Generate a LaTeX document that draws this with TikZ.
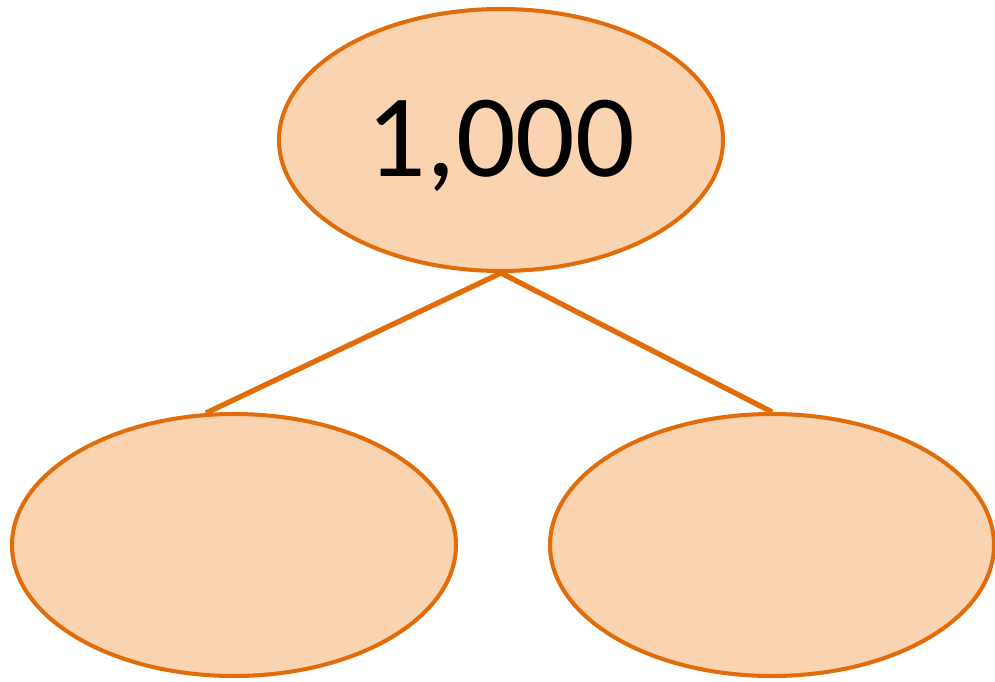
\documentclass[tikz,border=0pt]{standalone}
\usepackage{fontspec}
\setmainfont{Carlito}
\usetikzlibrary{shapes.geometric}
\definecolor{bondfill}{HTML}{FAD4B1}
\definecolor{bondline}{HTML}{E36C0A}
\tikzset{
	part/.style={ellipse,draw=bondline,fill=bondfill,line width=2.3pt,minimum width=8.88cm,minimum height=5.24cm,inner sep=0pt},
	link/.style={draw=bondline,line width=3pt}
}

\begin{document}
\begin{tikzpicture}
	    	\useasboundingbox (0,0) rectangle (19.9,13.62);
	    	\node (whole) at (10.02,10.82) [part] {};
	    	\node (wholetext) at (10.02,10.70) {\fontsize{67}{76}\selectfont 1,000};
	    	\node (left) at (4.68,2.72) [part] {};
	    	\node (right) at (15.44,2.72) [part] {};
	    	\draw[link] (whole.south) -- (left.102);
	    	\draw[link] (whole.south) -- (right.north);
	    	\end{tikzpicture}
\end{document}
